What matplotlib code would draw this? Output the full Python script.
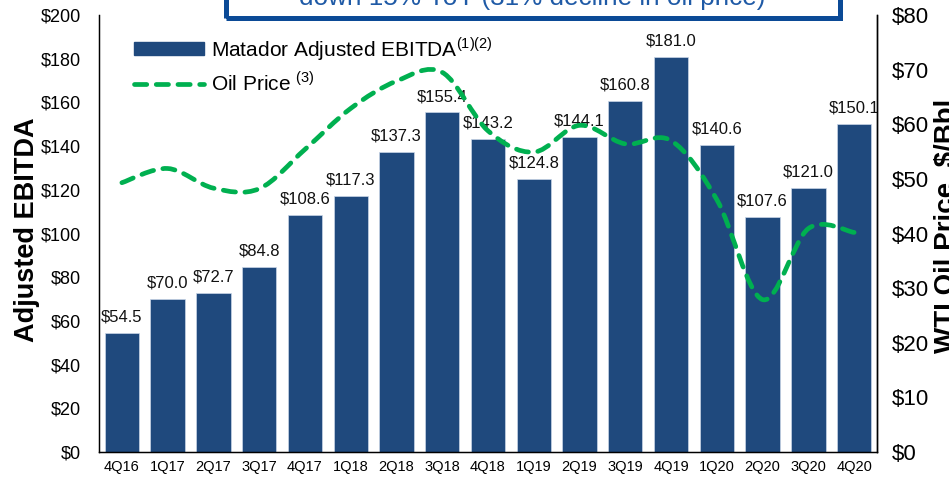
import numpy as np
import matplotlib
matplotlib.use("Agg")
import matplotlib.pyplot as plt
from matplotlib.path import Path
from matplotlib.patches import PathPatch, Rectangle, Patch
from matplotlib.lines import Line2D

quarters = ['4Q16', '1Q17', '2Q17', '3Q17', '4Q17', '1Q18', '2Q18', '3Q18', '4Q18',
            '1Q19', '2Q19', '3Q19', '4Q19', '1Q20', '2Q20', '3Q20', '4Q20']
ebitda = [54.5, 70.0, 72.7, 84.8, 108.6, 117.3, 137.3, 155.4, 143.2,
          124.8, 144.1, 160.8, 181.0, 140.6, 107.6, 121.0, 150.1]
oil_price = [49.3, 51.9, 48.3, 48.2, 55.4, 62.9, 67.9, 69.5, 58.8,
             54.9, 59.8, 56.4, 57.0, 46.2, 27.9, 40.9, 40.2]

plt.rcParams['font.family'] = ['Liberation Sans', 'DejaVu Sans']
plt.rcParams['mathtext.fontset'] = 'custom'
plt.rcParams['mathtext.rm'] = 'Liberation Sans'

BAR = '#1F497D'
GREEN = '#00B050'
W, H = 949, 478
DASH = (0, (2.6, 2.0))


def smooth_path(xs, ys):
    # Catmull-Rom style smoothing through the data points (like Excel's smoothed line)
    pts = np.column_stack([xs, ys]).astype(float)
    ext = np.vstack([pts[0], pts, pts[-1]])
    verts = [tuple(pts[0])]
    codes = [Path.MOVETO]
    for i in range(len(pts) - 1):
        p0, p1, p2, p3 = ext[i], ext[i + 1], ext[i + 2], ext[i + 3]
        c1 = p1 + (p2 - p0) / 6.0
        c2 = p2 - (p3 - p1) / 6.0
        verts += [tuple(c1), tuple(c2), tuple(p2)]
        codes += [Path.CURVE4] * 3
    return Path(verts, codes)


fig = plt.figure(figsize=(W / 100, H / 100), dpi=100)
ax = fig.add_axes([99 / W, 1 - 452 / H, (877 - 99) / W, (452 - 15) / H])

x = np.arange(len(quarters))
ax.bar(x, ebitda, width=0.75, color=BAR, edgecolor='#C9D6E8', linewidth=0.5, zorder=2)
for xi, v in zip(x, ebitda):
    ax.annotate(f'${v:.1f}', (xi, v), xytext=(0, 6), textcoords='offset points',
                ha='center', va='bottom', fontsize=12, color='#111111', zorder=3)

ax.set_xlim(-0.5, len(quarters) - 0.5)
ax.set_ylim(0, 200)
ax.set_yticks(range(0, 201, 20))
ax.set_yticklabels([f'${v}' for v in range(0, 201, 20)], fontsize=13)
ax.set_xticks(x)
ax.set_xticklabels(quarters, fontsize=10.5)
ax.tick_params(axis='y', length=0, pad=13)
ax.tick_params(axis='x', length=0, pad=6)
ax.spines['top'].set_visible(False)
for s in ['left', 'bottom', 'right']:
    ax.spines[s].set_linewidth(1.0)

ax2 = ax.twinx()
ax2.set_ylim(0, 80)
ax2.set_yticks(range(0, 81, 10))
ax2.set_yticklabels([f'${v}' for v in range(0, 81, 10)], fontsize=16)
ax2.tick_params(axis='y', length=0, pad=11)
ax2.spines['top'].set_visible(False)
ax2.spines['right'].set_linewidth(1.0)

line = PathPatch(smooth_path(x, oil_price), fill=False, edgecolor=GREEN, linewidth=3.4,
                 linestyle=DASH, capstyle='round', zorder=4)
ax2.add_patch(line)

handles = [Patch(facecolor=BAR, edgecolor=BAR),
           Line2D([], [], color=GREEN, lw=3.4, linestyle=DASH, dash_capstyle='round')]
labels = [r'Matador Adjusted EBITDA$^{(1)(2)}$', r'Oil Price $^{(3)}$']
ax2.legend(handles, labels, loc='upper left', bbox_to_anchor=((134 - 99) / 778, 0.955),
           frameon=False, fontsize=15, handlelength=3.35, handleheight=0.62,
           handletextpad=0.35, labelspacing=0.4, borderpad=0, borderaxespad=0)

fig.text(27 / W, 1 - 230 / H, 'Adjusted EBITDA', rotation=90, ha='center', va='center',
         fontsize=19.5, fontweight='bold')
fig.text(946 / W, 1 - 226 / H, 'WTI Oil Price, $/Bbl', rotation=90, ha='center', va='center',
         fontsize=20, fontweight='bold')

# callout box cut off at the top edge
fig.add_artist(Rectangle((225.5 / W, 1 - 17.5 / H), (839.5 - 225.5) / W, 0.2,
                         transform=fig.transFigure, fill=False, edgecolor='#0B4A96',
                         linewidth=3.6, clip_on=False))
fig.text(532 / W, 1 - 5.5 / H, 'down 15% YoY (31% decline in oil price)', ha='center',
         va='baseline', fontsize=18.8, color='#1F5AA6')

fig.savefig('out.png', dpi=100)
